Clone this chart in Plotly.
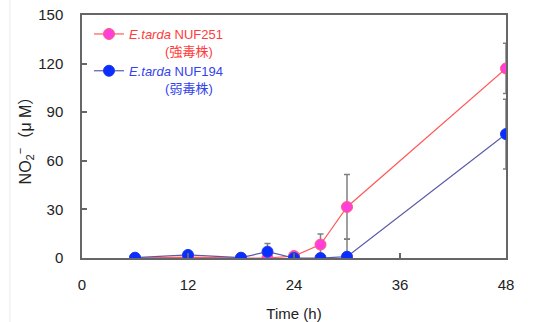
import plotly.graph_objects as go

time_h = [6, 12, 18, 21, 24, 27, 30, 48]
nuf251 = [0.0, 0.5, 0.0, 0.0, 1.2, 8.3, 31.5, 117.0]
nuf251_err = [0.0, 0.0, 0.0, 0.0, 0.0, 6.5, 20.0, 15.5]
nuf194 = [0.2, 1.9, 0.2, 3.9, 0.0, 0.0, 0.8, 76.5]
nuf194_err = [0.0, 0.0, 0.0, 5.0, 0.0, 0.0, 11.0, 21.5]

x_ticks = [0, 12, 24, 36, 48]
y_ticks = [0, 30, 60, 90, 120, 150]

name_251 = ('<span style="color:#FF3B3B"><i>E.tarda</i> NUF251<br>'
            + '\u00a0' * 10 + '(強毒株)</span>')
name_194 = ('<span style="color:#3344EE"><i>E.tarda</i> NUF194<br>'
            + '\u00a0' * 10 + '(弱毒株)</span>')

fig = go.Figure()
fig.add_trace(go.Scatter(
    x=time_h, y=nuf251, name=name_251, mode="lines+markers",
    line=dict(color="#FF5A5A", width=1.2),
    marker=dict(size=11, color="#FF3FD8", line=dict(color="#FF5A7A", width=1)),
    error_y=dict(type="data", array=nuf251_err, visible=True,
                 color="#808080", thickness=1.5, width=3),
))
fig.add_trace(go.Scatter(
    x=time_h, y=nuf194, name=name_194, mode="lines+markers",
    line=dict(color="#5A5AA8", width=1.2),
    marker=dict(size=11, color="#0A2EFF", line=dict(color="#1A3AEE", width=1)),
    error_y=dict(type="data", array=nuf194_err, visible=True,
                 color="#808080", thickness=1.5, width=3),
))

font_main = "Arial, Liberation Sans, Noto Sans CJK JP, sans-serif"

fig.update_layout(
    width=540, height=322,
    margin=dict(l=82, r=34, t=15, b=64, autoexpand=False),
    paper_bgcolor="white", plot_bgcolor="white",
    font=dict(family=font_main, size=15, color="#222222"),
    showlegend=True,
    legend=dict(
        x=0.0165, y=0.9835, xanchor="left", yanchor="top",
        bgcolor="rgba(0,0,0,0)", borderwidth=0,
        font=dict(family=font_main, size=13),
        valign="top", tracegroupgap=2, itemwidth=30,
    ),
    xaxis=dict(
        range=[0, 48], tickvals=x_ticks, ticktext=[str(v) for v in x_ticks],
        ticks="inside", ticklen=5, tickcolor="#666666", tickwidth=1.5,
        showline=True, linecolor="#666666", linewidth=1.5, mirror=True,
        showgrid=False, zeroline=False, ticklabelstandoff=12, automargin=False,
        ticklabeloverflow="allow",
        title=dict(text="Time (h)", font=dict(size=15), standoff=17),
    ),
    yaxis=dict(
        range=[0, 150], tickvals=y_ticks, ticktext=[str(v) for v in y_ticks],
        ticks="inside", ticklen=5, tickcolor="#666666", tickwidth=1.5,
        showline=True, linecolor="#666666", linewidth=1.5, mirror=True,
        showgrid=False, zeroline=False, ticklabelstandoff=14, automargin=False,
        ticklabeloverflow="allow",
        title=dict(text="NO<sub>2</sub><sup>−</sup>（μ M）",
                   font=dict(family="Liberation Sans, Noto Sans CJK JP, sans-serif", size=16),
                   standoff=3),
    ),
    shapes=[dict(type="line", xref="paper", yref="paper",
                 x0=-0.17, x1=-0.17, y0=-0.3, y1=1.1,
                 line=dict(color="#EBEBEB", width=1))],
)

fig.write_html(
    "out.html",
    config={"displayModeBar": False},
    post_script="document.body.style.margin='0';document.body.style.overflow='hidden';",
)
